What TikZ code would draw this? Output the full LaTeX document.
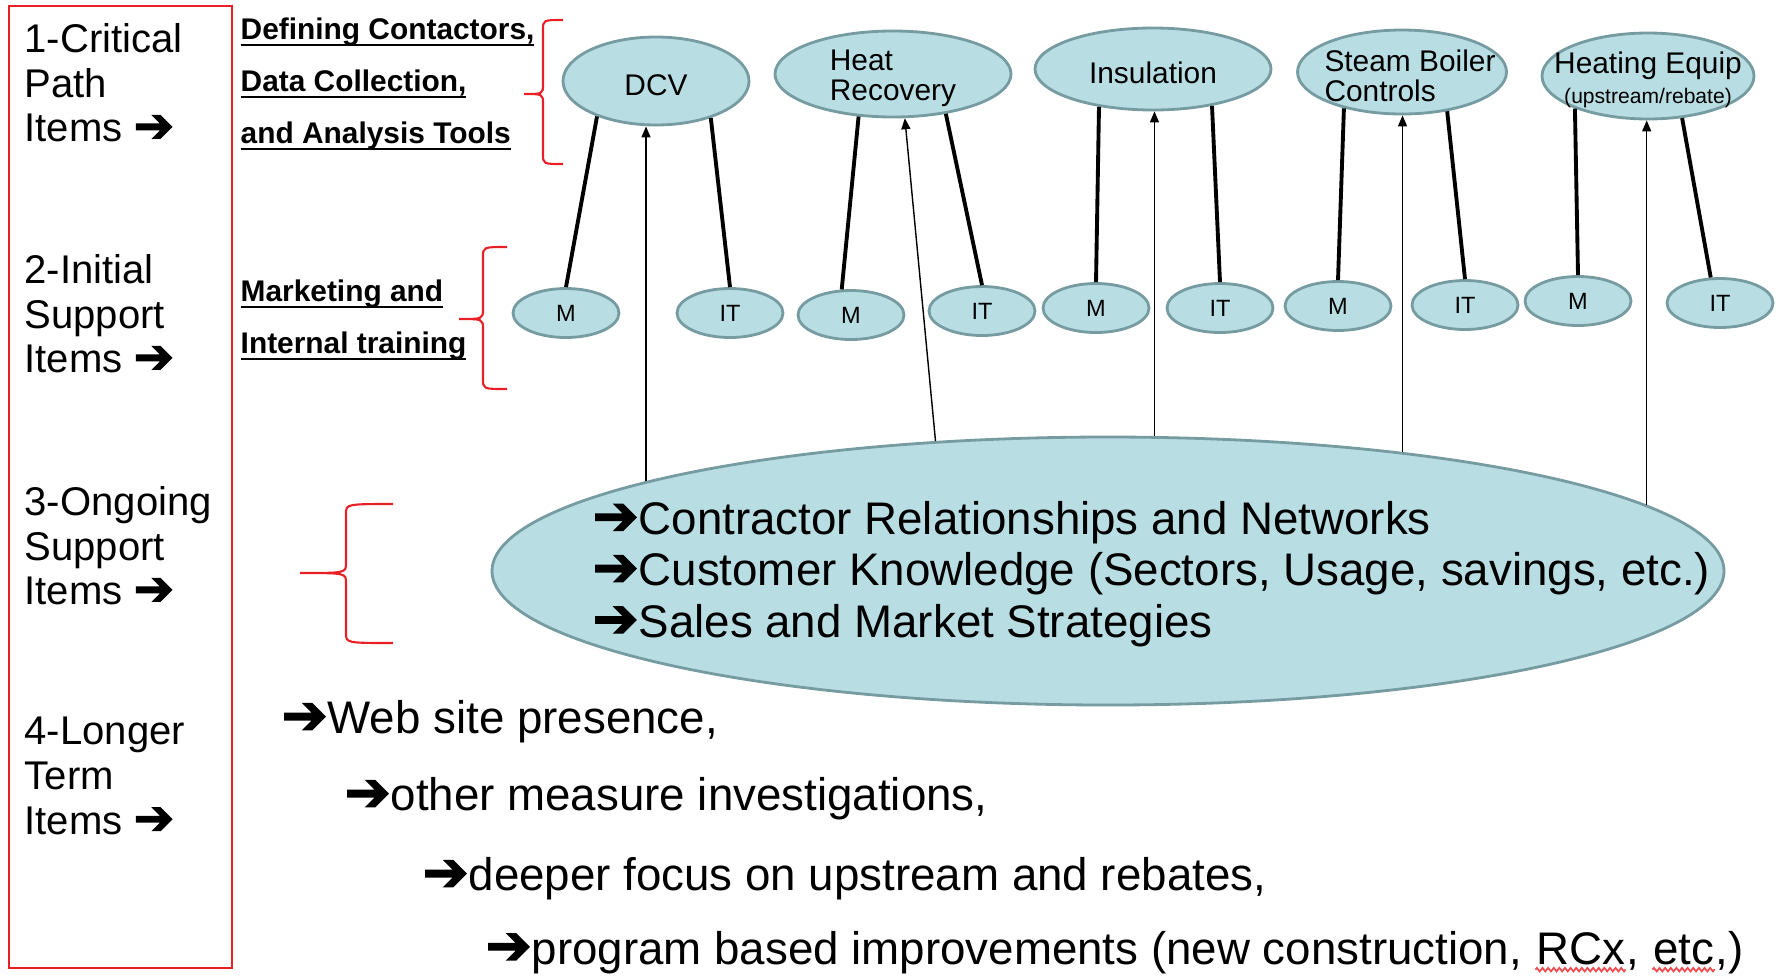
\documentclass[tikz,border=0pt]{standalone}
\usepackage{fontspec}
\setmainfont{Liberation Sans}
\newfontfamily\arrowfont[FakeBold=2.5]{DejaVu Sans}
\usetikzlibrary{arrows.meta,shapes.geometric,decorations.pathmorphing}
\definecolor{ovalfill}{RGB}{184,222,228}
\definecolor{ovaledge}{RGB}{118,156,162}
\definecolor{bracered}{RGB}{232,32,38}
\newcommand{\rarr}{{\arrowfont\scalebox{1.2}{➔}}}
\newcommand{\uln}[1]{\setbox0\hbox{#1}\rlap{\rule[-1.9pt]{\wd0}{0.6pt}}\box0}
% red curly brace: end x, stem x, tip x, top y, tip y, bottom y
\newcommand{\curlybrace}[6]{%
  \draw[bracestroke] (#1,#4) .. controls (#2,#4) .. ({#2},{#4-0.1})
    -- ({#2},{#5+0.1}) .. controls (#2,#5) .. (#3,#5)
    .. controls (#2,#5) .. ({#2},{#5-0.1})
    -- ({#2},{#6+0.1}) .. controls (#2,#6) .. (#1,#6);}

\begin{document}
\begin{tikzpicture}[
    font=\fontsize{8.5}{9}\selectfont,
    >={Triangle[length=1.1mm,width=0.9mm]},
    oval/.style={ellipse, draw=ovaledge, fill=ovalfill, line width=0.8pt, inner sep=0pt},
    topoval/.style={oval, minimum height=0.86cm},
    mioval/.style={oval, minimum width=1.06cm, minimum height=0.49cm, font=\fontsize{6.7}{8}\selectfont},
    toptext/.style={font=\fontsize{8.5}{8.6}\selectfont, yshift=-0.04cm},
    tierlabel/.style={anchor=west, align=left, inner sep=0pt, font=\fontsize{11.4}{12.7}\selectfont},
    grouptext/.style={anchor=west, align=left, inner sep=0pt, font=\fontsize{8.5}{14.8}\selectfont\bfseries},
    itemtext/.style={anchor=west, align=left, inner sep=0pt, font=\fontsize{13}{14.6}\selectfont},
    wordtext/.style={anchor=base west, inner sep=0pt, font=\fontsize{13}{14.6}\selectfont},
    link/.style={line width=1.1pt},
    feed/.style={->, line width=0.4pt},
    bracestroke/.style={draw=bracered, line width=0.6pt},
    spellwave/.style={draw=bracered!80, line width=0.5pt, decorate, decoration={zigzag, amplitude=0.5pt, segment length=1.6pt}},
]
    \useasboundingbox (0,0) rectangle (17.76,-9.78);

    % =====================================================================
    % Left column: item tiers
    % =====================================================================
    \draw[bracestroke, line width=0.8pt] (0.09,-0.06) rectangle (2.32,-9.68);
    \node[tierlabel] (tiercrit) at (0.24,-0.83) {1-Critical\\Path\\Items \rarr};
    \node[tierlabel] (tierinit) at (0.24,-3.14) {2-Initial\\Support\\Items \rarr};
    \node[tierlabel] (tierongo) at (0.24,-5.46) {3-Ongoing\\Support\\Items \rarr};
    \node[tierlabel] (tierlong) at (0.24,-7.76) {4-Longer\\Term\\Items \rarr};

    % Group notes and braces
    \node[grouptext] (tooltxt) at (2.40,-0.84) {\uln{Defining Contactors,}\\\uln{Data Collection,}\\\uln{and Analysis Tools}};
    \node[grouptext] (traintxt) at (2.40,-3.20) {\uln{Marketing and}\\\uln{Internal training}};
    \curlybrace{5.63}{5.43}{5.24}{-0.20}{-0.94}{-1.64}
    \curlybrace{5.07}{4.83}{4.59}{-2.47}{-3.19}{-3.89}
    \curlybrace{3.93}{3.46}{3.00}{-5.04}{-5.73}{-6.43}

    % =====================================================================
    % Critical path measures
    % =====================================================================
    \node[topoval, minimum width=1.86cm, minimum height=0.88cm, label={[toptext]center:DCV}] (dcv) at (6.56,-0.81) {};
    \node[topoval, minimum width=2.36cm, label={[toptext, align=left]center:{Heat\\Recovery}}] (heatrec) at (8.93,-0.74) {};
    \node[topoval, minimum width=2.36cm, minimum height=0.82cm, label={[toptext]center:Insulation}] (insul) at (11.53,-0.69) {};
    \node[topoval, minimum width=2.09cm, minimum height=0.84cm, label={[toptext, align=left, xshift=0.08cm]center:{Steam Boiler\\Controls}}] (steam) at (14.02,-0.72) {};
    \node[topoval, minimum width=2.12cm, label={[toptext, align=center]center:{Heating Equip\\{\fontsize{6}{6}\selectfont(upstream/rebate)}}}] (heating) at (16.48,-0.76) {};

    % Marketing (M) and internal training (IT)
    \node[mioval] (m1) at (5.66,-3.13) {M};
    \node[mioval] (it1) at (7.30,-3.13) {IT};
    \node[mioval] (m2) at (8.51,-3.15) {M};
    \node[mioval] (it2) at (9.82,-3.11) {IT};
    \node[mioval] (m3) at (10.96,-3.08) {M};
    \node[mioval] (it3) at (12.20,-3.08) {IT};
    \node[mioval] (m4) at (13.38,-3.06) {M};
    \node[mioval] (it4) at (14.65,-3.05) {IT};
    \node[mioval] (m5) at (15.78,-3.01) {M};
    \node[mioval] (it5) at (17.20,-3.03) {IT};

    \foreach \ov/\ma/\mend/\ia/\iend in {dcv/211/m1.north/326/it1.north,
        heatrec/231/m2.110/323/it2.north, insul/215/m3.north/328/it3.north,
        steam/212/m4.north/319/it4.north, heating/204/m5.north/309/it5.110}{
        \draw[link] (\ov.\ma) -- (\mend);
        \draw[link] (\ov.\ia) -- (\iend);
    }

    % =====================================================================
    % Ongoing support
    % =====================================================================
    \node[oval, minimum width=12.32cm, minimum height=2.68cm] (big) at (11.08,-5.71) {};
    \node[itemtext] (bigtxt) at (5.92,-5.74) {\rarr Contractor Relationships and Networks\\\rarr Customer Knowledge (Sectors, Usage, savings, etc.)\\\rarr Sales and Market Strategies};

    \draw[feed] (big.169) -- (big.169 |- dcv.south);
    \draw[feed] (big.143) -- (heatrec.285);
    \draw[feed] (big.71) -- (big.71 |- insul.south);
    \draw[feed] (big.22) -- (big.22 |- steam.south);
    \draw[feed] (big.7) -- (big.7 |- heating.south);

    % =====================================================================
    % Longer term
    % =====================================================================
    \node[itemtext] (webtxt) at (2.81,-7.22) {\rarr Web site presence,};
    \node[itemtext] (othertxt) at (3.44,-7.99) {\rarr other measure investigations,};
    \node[itemtext] (deepertxt) at (4.22,-8.79) {\rarr deeper focus on upstream and rebates,};
    \node[wordtext] (progtxt) at (4.85,-9.64) {\rarr program based improvements (new construction,\hbox to 0.278em{}};
    \node[wordtext] (rcxword) at (progtxt.base east) {RCx};
    \node[wordtext] (sepword) at (rcxword.base east) {,\hbox to 0.278em{}};
    \node[wordtext] (etcword) at (sepword.base east) {etc};
    \node[wordtext] (endword) at (etcword.base east) {,)};

    % spell-check marks
    \draw[spellwave] ([yshift=-1.6pt]rcxword.base west) -- ([yshift=-1.6pt]rcxword.base east);
    \draw[spellwave] ([yshift=-1.6pt]etcword.base west) -- ([yshift=-1.6pt]etcword.base east);

\end{tikzpicture}
\end{document}
